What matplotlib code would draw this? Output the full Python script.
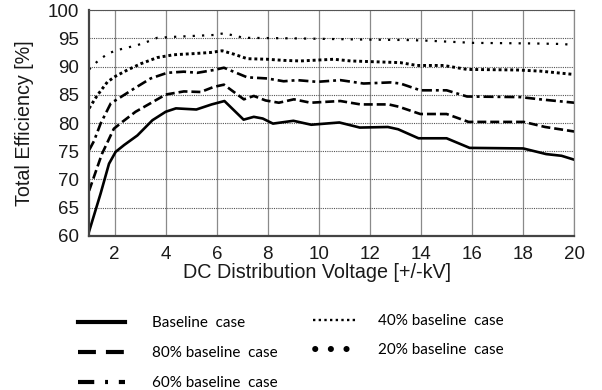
import numpy as np
import matplotlib.pyplot as plt
from matplotlib.lines import Line2D

# voltage points (kV) and efficiency (%)
base_x = [1.0, 1.45, 1.78, 2.04, 2.37, 2.89, 3.48, 4.0, 4.4, 5.2, 5.8, 6.3,
          7.05, 7.45, 7.8, 8.2, 9.0, 9.7, 10.8, 11.6, 12.7, 13.1, 13.9, 15.0,
          15.9, 18.0, 18.9, 19.5, 20.0]
base_y = [60.8, 67.5, 72.8, 74.9, 76.1, 77.8, 80.5, 82.0, 82.6, 82.4, 83.3, 83.9,
          80.6, 81.1, 80.8, 79.9, 80.4, 79.7, 80.1, 79.2, 79.3, 78.9, 77.3, 77.3,
          75.6, 75.5, 74.5, 74.2, 73.5]

p80_x = [1.0, 1.5, 1.97, 2.3, 2.82, 3.48, 4.0, 4.71, 5.37, 5.88, 6.28, 7.06,
         7.45, 7.91, 8.43, 9.02, 9.67, 10.84, 11.63, 12.73, 13.12, 13.97, 15.0,
         15.86, 18.02, 18.86, 20.0]
p80_y = [68.0, 74.5, 79.0, 80.2, 82.0, 83.7, 85.05, 85.6, 85.5, 86.4, 86.8, 84.2,
         84.8, 84.0, 83.6, 84.2, 83.6, 83.9, 83.3, 83.3, 82.9, 81.6, 81.6,
         80.2, 80.2, 79.3, 78.5]

p60_x = [1.0, 1.19, 1.45, 1.85, 2.24, 2.76, 3.41, 4.06, 4.71, 5.24, 5.89, 6.28,
         7.19, 7.97, 8.62, 9.15, 9.93, 10.84, 11.75, 12.8, 13.19, 13.97, 15.0,
         15.8, 17.88, 18.66, 20.0]
p60_y = [75.2, 76.8, 79.9, 83.5, 84.6, 86.1, 87.9, 88.9, 89.1, 88.9, 89.4, 89.8,
         88.1, 87.9, 87.4, 87.6, 87.3, 87.6, 87.0, 87.2, 87.0, 85.8, 85.8,
         84.7, 84.6, 84.2, 83.6]

p40_x = [1.0, 1.32, 1.72, 2.04, 2.5, 3.02, 3.67, 4.32, 5.1, 5.76, 6.21, 6.67,
         7.19, 7.97, 8.62, 9.28, 10.58, 11.24, 12.54, 13.19, 13.84, 14.88,
         15.8, 17.76, 18.66, 20.0]
p40_y = [82.6, 84.9, 87.3, 88.3, 89.4, 90.5, 91.6, 92.1, 92.3, 92.5, 92.8, 92.2,
         91.4, 91.3, 91.1, 91.0, 91.3, 91.0, 90.8, 90.7, 90.2, 90.2,
         89.5, 89.4, 89.2, 88.6]

p20_x = [1.0, 1.39, 1.78, 2.17, 2.89, 3.28, 3.67, 4.45, 5.89, 6.28, 7.06, 9.0,
         11.6, 13.5, 14.2, 16.06, 18.4, 19.56, 20.0]
p20_y = [89.5, 91.2, 92.4, 93.0, 93.8, 94.4, 95.1, 95.3, 95.6, 95.9, 95.1, 95.0,
         94.8, 94.7, 94.6, 94.2, 94.1, 94.0, 93.8]

labels_left = ['Baseline  case', '80% baseline  case', '60% baseline  case']
labels_right = ['40% baseline  case', '20% baseline  case']

fig = plt.figure(figsize=(6.02, 3.90), dpi=100)
ax = fig.add_axes([0.148, 0.395, 0.806, 0.579])

lw = 1.9
ax.plot(base_x, base_y, color='black', lw=lw, solid_joinstyle='round')
ax.plot(p80_x, p80_y, color='black', lw=lw, linestyle=(0, (3.4, 1.5)))
ax.plot(p60_x, p60_y, color='black', lw=lw, linestyle=(0, (3.8, 1.5, 1.1, 1.5)))
ax.plot(p40_x, p40_y, color='black', lw=2.1, linestyle=(0, (1, 1)))
ax.plot(p20_x, p20_y, color='black', lw=1.6, linestyle=(0, (1, 3.2)))

ax.set_xlim(1, 20)
ax.set_ylim(60, 100)
ax.set_xticks(np.arange(2, 21, 2))
ax.set_yticks(np.arange(60, 101, 5))

ax.xaxis.grid(True, color='#8a8a8a', lw=0.9, linestyle='-')
ax.yaxis.grid(True, color='#555555', lw=0.8, linestyle=(0, (1, 1)))
ax.tick_params(length=0, labelsize=13.5, labelcolor='#1a1a1a', pad=7)

for s in ['left', 'bottom']:
    ax.spines[s].set_color('#444444')
    ax.spines[s].set_linewidth(1.6)
ax.spines['top'].set_color('#555555')
ax.spines['top'].set_linewidth(0.8)
ax.spines['top'].set_linestyle((0, (1, 1)))
ax.spines['right'].set_color('#8a8a8a')
ax.spines['right'].set_linewidth(0.9)

ax.set_xlabel('DC Distribution Voltage [+/-kV]', fontsize=14.2, color='#1a1a1a')
ax.xaxis.set_label_coords(0.469, -0.118)
ax.set_ylabel('Total Efficiency [%]', fontsize=14.2, color='#1a1a1a', labelpad=10)

for t in ax.get_xticklabels() + ax.get_yticklabels():
    t.set_fontfamily('Liberation Sans')
ax.xaxis.label.set_fontfamily('Liberation Sans')
ax.yaxis.label.set_fontfamily('Liberation Sans')

# legend proxies (drawn thicker than the curves, like the reference)
h_left = [
    Line2D([], [], color='black', lw=3.0),
    Line2D([], [], color='black', lw=3.0, linestyle=(0, (4.3, 2.4))),
    Line2D([], [], color='black', lw=3.0, linestyle=(0, (3.9, 2.6, 0.7, 2.6))),
]
h_right = [
    Line2D([], [], color='black', lw=1.7, linestyle=(0, (1, 1.4))),
    Line2D([], [], color='black', lw=4.4, linestyle=(2.2, (0.01, 2.55)),
           dash_capstyle='round'),
]
leg_font = {'family': 'Lato', 'size': 11}
leg1 = fig.legend(h_left, labels_left, loc='upper left',
                  bbox_to_anchor=(0.106, 0.2244), frameon=False,
                  handlelength=3.08, handletextpad=1.77, labelspacing=1.05,
                  prop=leg_font)
leg2 = fig.legend(h_right, labels_right, loc='upper left',
                  bbox_to_anchor=(0.497, 0.2295), frameon=False,
                  handlelength=2.95, handletextpad=1.31, labelspacing=0.96,
                  prop=leg_font)

fig.savefig('out.png', dpi=100)
